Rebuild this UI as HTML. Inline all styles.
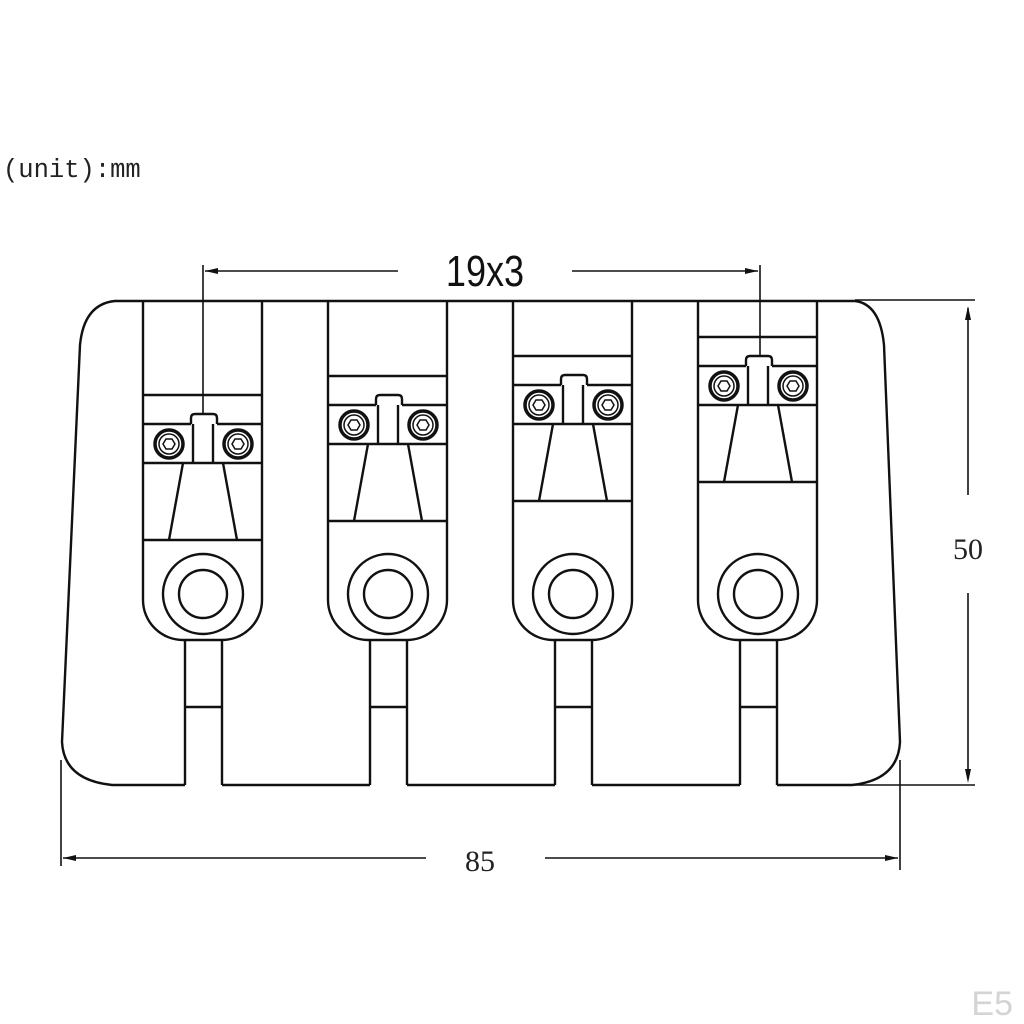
<!DOCTYPE html>
<html><head><style>
html,body{margin:0;padding:0;background:#fff;}
svg{display:block;}
</style></head><body>
<svg width="1024" height="1024" viewBox="0 0 1024 1024" xmlns="http://www.w3.org/2000/svg">
<defs>
<g id="mech" fill="none" stroke="#111" stroke-width="2.4">
  <line x1="143" y1="395" x2="262" y2="395"/>
  <line x1="143" y1="424" x2="191" y2="424"/>
  <line x1="217" y1="424" x2="262" y2="424"/>
  <line x1="143" y1="463" x2="262" y2="463"/>
  <line x1="143" y1="540" x2="262" y2="540"/>
  <path d="M191,424 V418 Q191,414 195,414 H213 Q217,414 217,418 V424"/>
  <line x1="193" y1="424" x2="193" y2="463"/>
  <line x1="213" y1="424" x2="213" y2="463"/>
  <line x1="183" y1="463" x2="169" y2="540"/>
  <line x1="223" y1="463" x2="237" y2="540"/>
  <circle cx="169" cy="444" r="14" stroke-width="3.5"/>
  <circle cx="169" cy="444" r="10" stroke-width="1.5"/>
  <polygon points="175,444 172,449 166,449 163,444 166,439 172,439" stroke-width="1.5"/>
  <circle cx="238" cy="444" r="14" stroke-width="3.5"/>
  <circle cx="238" cy="444" r="10" stroke-width="1.5"/>
  <polygon points="244,444 241,449 235,449 232,444 235,439 241,439" stroke-width="1.5"/>
</g>
<g id="base" fill="none" stroke="#111" stroke-width="2.4">
  <path d="M143,301 V600 A40,40 0 0 0 183,640 H222 A40,40 0 0 0 262,600 V301"/>
  <circle cx="203" cy="594" r="40"/>
  <circle cx="203" cy="594" r="24"/>
  <line x1="185" y1="640" x2="185" y2="785"/>
  <line x1="222" y1="640" x2="222" y2="785"/>
  <line x1="185" y1="707" x2="222" y2="707"/>
</g>
</defs>

<g fill="none" stroke="#111" stroke-width="2.4">
  <path d="M185,785 H112 Q64,780 62,742 L80,345 Q84,304 115,301 H855 Q880,304 884,345 L900,742 Q898,780 852,785 H777"/>
  <line x1="222" y1="785" x2="370" y2="785"/>
  <line x1="407" y1="785" x2="555" y2="785"/>
  <line x1="592" y1="785" x2="740" y2="785"/>
</g>

<use href="#base"/>
<use href="#base" transform="translate(185,0)"/>
<use href="#base" transform="translate(370,0)"/>
<use href="#base" transform="translate(555,0)"/>

<use href="#mech"/>
<use href="#mech" transform="translate(185,-19)"/>
<use href="#mech" transform="translate(370,-39)"/>
<use href="#mech" transform="translate(555,-58)"/>

<g stroke="#111" stroke-width="1.6" fill="none">
  <line x1="203" y1="265" x2="203" y2="414"/>
  <line x1="760" y1="265" x2="760" y2="356"/>
  <line x1="205" y1="271" x2="398" y2="271"/>
  <line x1="572" y1="271" x2="758" y2="271"/>
  <line x1="855" y1="300" x2="975" y2="300"/>
  <line x1="855" y1="785" x2="975" y2="785"/>
  <line x1="968" y1="308" x2="968" y2="495"/>
  <line x1="968" y1="593" x2="968" y2="778"/>
  <line x1="61" y1="760" x2="61" y2="866"/>
  <line x1="900" y1="760" x2="900" y2="870"/>
  <line x1="63" y1="858" x2="426" y2="858"/>
  <line x1="545" y1="858" x2="898" y2="858"/>
</g>
<g fill="#111">
  <polygon points="205,271 218,268 218,274"/>
  <polygon points="758,271 745,268 745,274"/>
  <polygon points="968,306 965,320 971,320"/>
  <polygon points="968,783 965,769 971,769"/>
  <polygon points="63,858 76,855 76,861"/>
  <polygon points="898,858 885,855 885,861"/>
</g>

<text x="3" y="177" font-family="Liberation Mono, monospace" font-size="25.5" fill="#222">(unit):mm</text>
<text x="485" y="286" text-anchor="middle" font-family="Liberation Sans, sans-serif" font-size="44" fill="#111" transform="translate(485,0) scale(0.82,1) translate(-485,0)">19x3</text>
<text x="968" y="559" text-anchor="middle" font-family="Liberation Serif, serif" font-size="30" fill="#222">50</text>
<text x="480" y="871" text-anchor="middle" font-family="Liberation Serif, serif" font-size="30" fill="#222">85</text>
<text x="1013" y="1015" text-anchor="end" font-family="Liberation Sans, sans-serif" font-size="34" fill="#d4d4d4">E5</text>
</svg>
</body></html>
